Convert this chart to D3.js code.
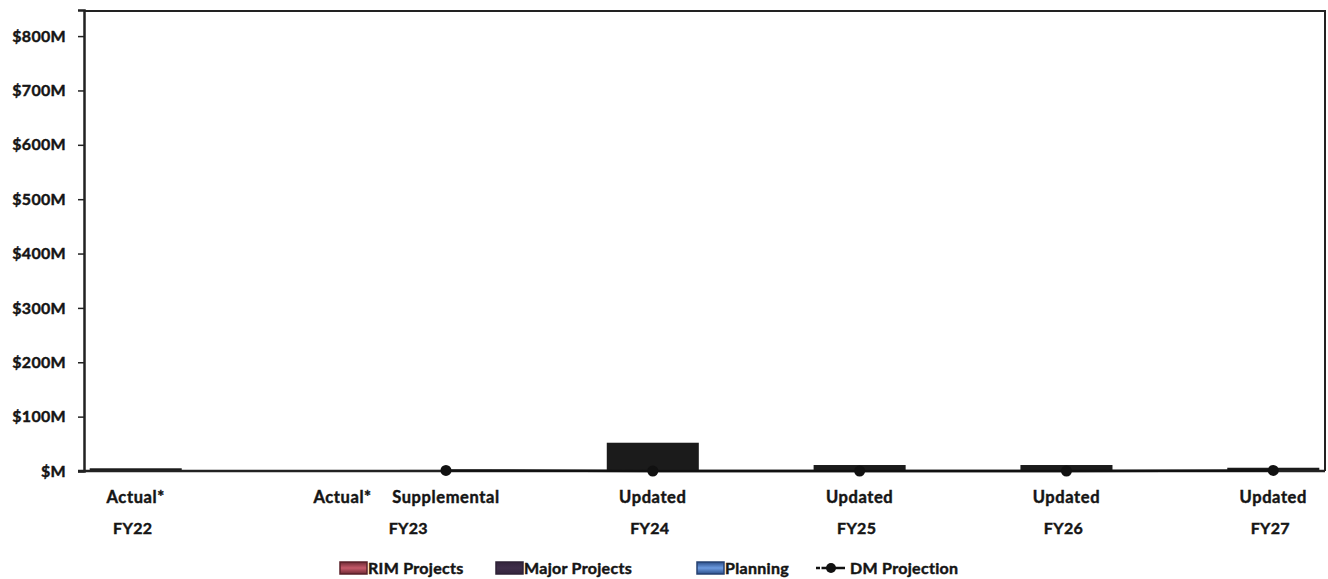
<!DOCTYPE html>
<html><head><meta charset="utf-8">
<script src="https://cdn.jsdelivr.net/npm/d3@7"></script>
<style>
body{margin:0;background:#fff;}
text{font-family:Lato,"Open Sans",sans-serif;font-weight:700;fill:#151515;stroke:#151515;stroke-width:0.45px;}
</style></head>
<body><svg id="c" width="1328" height="579"></svg>
<script>
// ---- data ----
const slots = ["FY22|Actual*","gap1","FY23|Actual*","FY23|Supplemental","gap2","FY24|Updated","gap3","FY25|Updated","gap4","FY26|Updated","gap5","FY27|Updated"];
const categories = ["FY22|Actual*","FY23|Actual*","FY23|Supplemental","FY24|Updated","FY25|Updated","FY26|Updated","FY27|Updated"];
const groups = ["FY22","FY23","FY24","FY25","FY26","FY27"];
const rimProjects   = [5, 1, 2, 52, 11, 11, 6];
const majorProjects = [0, 0, 0, 0, 0, 0, 0];
const planning      = [0, 0, 0, 0, 0, 0, 0];
const dmCategories  = ["FY23|Supplemental","FY24|Updated","FY25|Updated","FY26|Updated","FY27|Updated"];
const dmProjection  = [1, 0, 0, 0, 1];
const yTicks = [0,100,200,300,400,500,600,700,800];
const yTickLabels = ["$M","$100M","$200M","$300M","$400M","$500M","$600M","$700M","$800M"];
const legendLabels = ["RIM Projects","Major Projects","Planning","DM Projection"];

const svg = d3.select("#c");
const L=84, R=1325, T=10, B=471;
const x = d3.scaleBand().domain(slots).range([L,R]).paddingInner(0.11).paddingOuter(0.055);
const y = d3.scaleLinear().domain([0,848]).range([B,T]);

const defs = svg.append("defs");
function grad(id, edge, mid){
  const g = defs.append("linearGradient").attr("id",id).attr("x1",0).attr("x2",0).attr("y1",0).attr("y2",1);
  g.append("stop").attr("offset","0%").attr("stop-color",edge);
  g.append("stop").attr("offset","50%").attr("stop-color",mid);
  g.append("stop").attr("offset","100%").attr("stop-color",edge);
}
grad("gRim","#6e2a34","#c65a6a");
grad("gMaj","#34253d","#3f2e4a");
grad("gPlan","#2c4f8a","#6d9be0");

// stacked bars
const table = categories.map((c,i)=>({cat:c, rim:rimProjects[i], major:majorProjects[i], planning:planning[i]}));
const stack = d3.stack().keys(["rim","major","planning"])(table);
svg.append("g").selectAll("g").data(stack).join("g")
  .attr("fill","#1b1b1b")
  .selectAll("rect").data(d=>d).join("rect")
  .attr("x",d=>x(d.data.cat)).attr("width",x.bandwidth())
  .attr("y",d=>y(d[1])).attr("height",d=>Math.max(0,y(d[0])-y(d[1])));

// frame top / right
svg.append("line").attr("x1",L).attr("x2",R).attr("y1",T+1).attr("y2",T+1).attr("stroke","#222").attr("stroke-width",2);
svg.append("line").attr("x1",R).attr("x2",R).attr("y1",T).attr("y2",B).attr("stroke","#222").attr("stroke-width",2);

// y axis
const yAxis = d3.axisLeft(y).tickValues(yTicks).tickFormat((d,i)=>yTickLabels[i]).tickSize(6).tickPadding(12);
const ya = svg.append("g").attr("transform",`translate(${L},0)`).call(yAxis);
ya.select(".domain").attr("stroke","#222").attr("stroke-width",2.5);
ya.selectAll(".tick line").attr("stroke","#222").attr("stroke-width",1.5);
ya.selectAll(".tick text").style("font-size","16px").style("letter-spacing","0.3px").attr("fill","#151515");

// x axis baseline
svg.append("line").attr("x1",L-6).attr("x2",R).attr("y1",B).attr("y2",B).attr("stroke","#222").attr("stroke-width",2.5);

// x labels
const xl = svg.append("g");
xl.selectAll("text.sub").data(categories).join("text").attr("class","sub")
  .attr("x",d=>x(d)+x.bandwidth()/2).attr("y",503).attr("text-anchor","middle")
  .style("font-size","16.5px").style("letter-spacing","0.6px")
  .text(d=>d.split("|")[1]);
xl.selectAll("text.grp").data(groups).join("text").attr("class","grp")
  .attr("x",g=>{const cs=categories.filter(c=>c.startsWith(g+"|"));return d3.mean(cs,c=>x(c)+x.bandwidth()/2)+(cs.length>1?14:-3);})
  .attr("y",534).attr("text-anchor","middle")
  .style("font-size","16px").style("letter-spacing","0.3px")
  .text(d=>d);

// DM projection line
const dm = dmCategories.map((c,i)=>({cat:c,v:dmProjection[i]}));
const line = d3.line().x(d=>x(d.cat)+x.bandwidth()/2).y(d=>y(d.v));
svg.append("path").datum(dm).attr("d",line).attr("fill","none").attr("stroke","#111").attr("stroke-width",2.5);
svg.append("g").selectAll("circle").data(dm).join("circle")
  .attr("cx",d=>x(d.cat)+x.bandwidth()/2).attr("cy",d=>y(d.v)).attr("r",5.5).attr("fill","#111");

// legend
const lg = svg.append("g");
const ly = 568;
const items = [
  {sx:340, fill:"url(#gRim)", stroke:"#5a2028"},
  {sx:496, fill:"url(#gMaj)", stroke:"#2e2236"},
  {sx:697, fill:"url(#gPlan)", stroke:"#264272"}
];
items.forEach((it,i)=>{
  lg.append("rect").attr("x",it.sx).attr("y",ly-6).attr("width",27).attr("height",12)
    .attr("fill",it.fill).attr("stroke",it.stroke).attr("stroke-width",1.5);
  lg.append("text").attr("x",it.sx+28).attr("y",ly+6).style("font-size","16px").style("letter-spacing","0.3px").text(legendLabels[i]);
});
lg.append("line").attr("x1",816).attr("x2",845).attr("y1",ly).attr("y2",ly).attr("stroke","#111").attr("stroke-width",2.5).attr("stroke-dasharray","4,1.5,30");
lg.append("circle").attr("cx",831).attr("cy",ly).attr("r",5).attr("fill","#111");
lg.append("text").attr("x",850).attr("y",ly+6).style("font-size","16px").style("letter-spacing","0.3px").text(legendLabels[3]);
</script></body></html>
